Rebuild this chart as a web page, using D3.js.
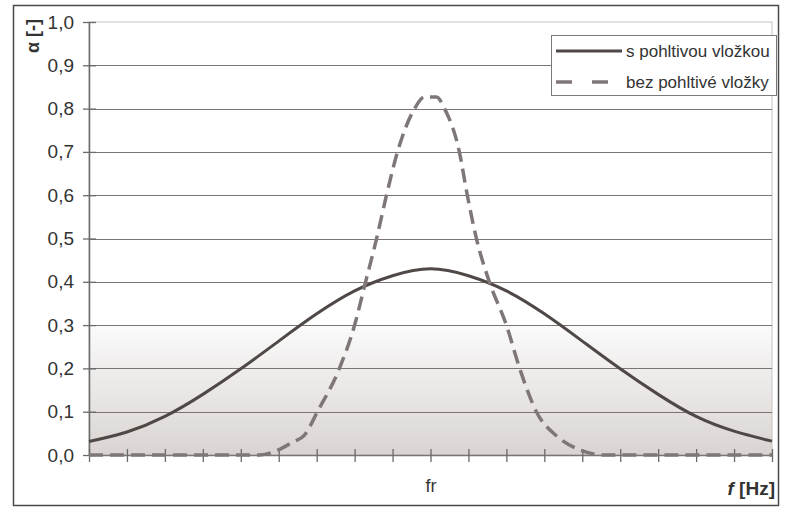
<!DOCTYPE html>
<html><head><meta charset="utf-8">
<script src="https://cdn.jsdelivr.net/npm/d3@7"></script>
<style>body{margin:0;background:#fff}svg{display:block}text{font-family:"Liberation Sans",Arial,sans-serif;fill:#333}</style>
</head><body><svg id="c" width="793" height="514"></svg>
<script>
// x positions in tick units (0..18), "fr" at 9
const solidX = [0,1,2,3,4,5,6,7,8,9,10,11,12,13,14,15,16,17,18];
const solidY = [0.031,0.053,0.089,0.140,0.199,0.263,0.326,0.379,0.414,0.43,0.414,0.379,0.326,0.263,0.199,0.140,0.089,0.055,0.032];
const dashX = [0,4.5,5.0,5.37,5.68,6.02,6.6,7.0,7.29,7.58,7.84,8.13,8.58,8.84,9.16,9.37,9.76,9.97,10.21,10.55,11.0,11.35,11.79,12.35,12.93,13.6,18];
const dashY = [0,0,0.012,0.03,0.046,0.1,0.2,0.3,0.4,0.5,0.6,0.7,0.8,0.827,0.827,0.8,0.7,0.6,0.5,0.4,0.3,0.2,0.1,0.042,0.012,0,0];
const yTicks = [0,0.1,0.2,0.3,0.4,0.5,0.6,0.7,0.8,0.9,1.0];
const xTicks = d3.range(0,19);
const xLabels = {9:"fr"};
const seriesNames = ["s pohltivou vložkou","bez pohltivé vložky"];

const svg = d3.select("#c");
const L=89, R=772, T=22, B=455;
const x = d3.scaleLinear().domain([0,18]).range([L,R]);
const y = d3.scaleLinear().domain([0,1]).range([B,T]);

// outer border
svg.append("rect").attr("x",13.5).attr("y",5.5).attr("width",765).attr("height",500)
  .attr("fill","#fff").attr("stroke","#4a4a4a").attr("stroke-width",1.5);

// gradient
const defs = svg.append("defs");
const g = defs.append("linearGradient").attr("id","bg").attr("x1",0).attr("y1",0).attr("x2",0).attr("y2",1);
g.append("stop").attr("offset","0%").attr("stop-color","#fbfbfb");
g.append("stop").attr("offset","100%").attr("stop-color","#d9d4d1");
svg.append("rect").attr("x",L).attr("y",y(0.3)).attr("width",R-L).attr("height",y(0)-y(0.3)).attr("fill","url(#bg)");

// plot border (light)
svg.append("rect").attr("x",L).attr("y",T).attr("width",R-L).attr("height",B-T)
  .attr("fill","none").attr("stroke","#c4c4c4").attr("stroke-width",1);

// gridlines
svg.append("g").selectAll("line").data(yTicks.filter(v=>v>0 && v<1)).join("line")
  .attr("x1",L).attr("x2",R).attr("y1",d=>Math.round(y(d))+0.5).attr("y2",d=>Math.round(y(d))+0.5)
  .attr("stroke","#7a7573").attr("stroke-width",1.2);

// y axis
const yAxis = d3.axisLeft(y).tickValues(yTicks).tickFormat(d=>d.toFixed(1).replace(".",",")).tickSize(0).tickPadding(15);
const ya = svg.append("g").attr("transform",`translate(${L},0)`).call(yAxis);
ya.select(".domain").attr("stroke","#6a6a6a").attr("stroke-width",1.5);
ya.selectAll("text").attr("font-size",19).attr("fill","#3a3a3a").style("font-family","'Liberation Sans',Arial,sans-serif");
ya.selectAll(".tick").append("line").attr("x1",-6).attr("x2",7).attr("stroke","#6a6a6a").attr("stroke-width",1.3);

// x axis
const xAxis = d3.axisBottom(x).tickValues(xTicks).tickFormat(d=>xLabels[d]||"").tickSize(0).tickPadding(24);
const xa = svg.append("g").attr("transform",`translate(0,${B})`).call(xAxis);
xa.select(".domain").attr("stroke","#7a7573").attr("stroke-width",1.5);
xa.selectAll("text").attr("font-size",18).attr("fill","#3a3a3a").style("font-family","'Liberation Sans',Arial,sans-serif");
xa.selectAll(".tick").append("line").attr("y1",-6).attr("y2",7).attr("stroke","#6a6a6a").attr("stroke-width",1.3);

// series
const lineS = d3.line().x((d,i)=>x(solidX[i])).y(d=>y(d)).curve(d3.curveNatural);
const lineD = d3.line().x((d,i)=>x(dashX[i])).y(d=>y(d)).curve(d3.curveMonotoneX);
svg.append("path").attr("d",lineS(solidY)).attr("fill","none").attr("stroke","#4f4846").attr("stroke-width",3);
svg.append("path").attr("d",lineD(dashY)).attr("fill","none").attr("stroke","#7f7777").attr("stroke-width",3.5)
  .attr("stroke-dasharray","14,7");

// axis titles
svg.append("text").attr("transform","translate(39,36) rotate(-90)").attr("text-anchor","middle")
  .attr("font-size",18).attr("font-weight","bold").attr("fill","#333").text("α [-]");
const xt = svg.append("text").attr("x",775).attr("y",495).attr("text-anchor","end")
  .attr("font-size",19).attr("font-weight","bold").attr("fill","#333");
xt.append("tspan").attr("font-style","italic").text("f");
xt.append("tspan").text(" [Hz]");

// legend
const lg = svg.append("g");
lg.append("rect").attr("x",551.5).attr("y",35.5).attr("width",225).attr("height",60)
  .attr("fill","#fff").attr("stroke","#7a7a7a").attr("stroke-width",1);
lg.append("line").attr("x1",556).attr("x2",622).attr("y1",51).attr("y2",51).attr("stroke","#4f4846").attr("stroke-width",3);
lg.append("line").attr("x1",556).attr("x2",614).attr("y1",82).attr("y2",82).attr("stroke","#7f7777").attr("stroke-width",3.5)
  .attr("stroke-dasharray","16,20");
lg.append("text").attr("x",626).attr("y",57).attr("font-size",17).attr("fill","#333").text(seriesNames[0]);
lg.append("text").attr("x",626).attr("y",88).attr("font-size",17).attr("fill","#333").text(seriesNames[1]);
</script></body></html>
